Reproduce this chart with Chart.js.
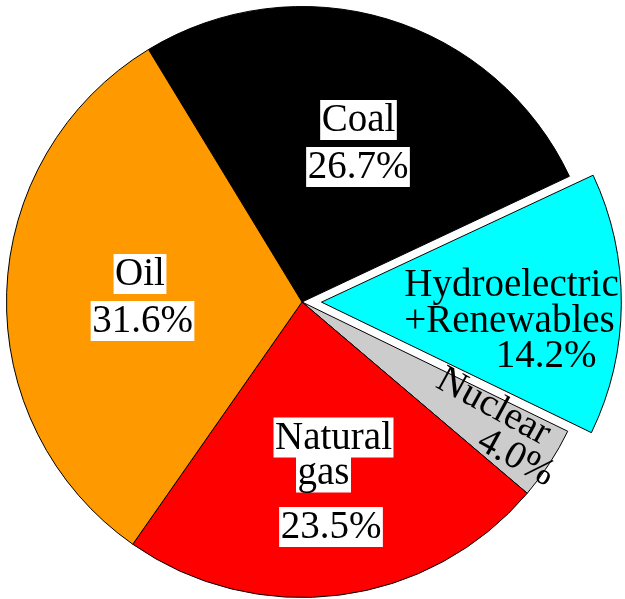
<!DOCTYPE html>
<html>
<head>
<meta charset="utf-8">
<script src="https://cdn.jsdelivr.net/npm/chart.js@4.4.1/dist/chart.umd.min.js"></script>
<style>
  html, body { margin: 0; padding: 0; background: #fff; }
  #wrap { position: relative; width: 625px; height: 599px; overflow: hidden; }
  /* canvas a bit larger than the window: the exploded slice eats into the radius */
  #energyPie { position: absolute; left: -33px; top: -33px; }
</style>
</head>
<body>
<div id="wrap"><canvas id="energyPie" width="670" height="670"></canvas></div>
<script>
// energy share, clockwise from the top-left
const categories = ["Coal", "Hydroelectric +Renewables", "Nuclear", "Natural gas", "Oil"];
const shares = [26.7, 14.2, 4.0, 23.5, 31.6];
const sliceColors = ["#000000", "#00ffff", "#cccccc", "#ff0000", "#ff9900"];
const labelLines = [
  ["Coal", "26.7%"],
  ["Hydroelectric", "+Renewables", "14.2%"],
  ["Nuclear", "4.0%"],
  ["Natural", "gas", "23.5%"],
  ["Oil", "31.6%"]
];

// label placement: baseline centre of each line, px from the pie centre
const labelLayout = [
  { box: true, rot: 0, pos: [[56.5, -171], [56, -124]] },
  { box: false, rot: 0, pos: [[209.5, -6], [207.5, 29.5], [244, 65]] },
  { box: false, rot: 28.6, pos: [[186.5, 114], [209, 165]] },
  { box: true, rot: 0, pos: [[31.5, 146.5], [21.5, 181.5], [29, 236]] },
  { box: true, rot: 0, pos: [[-162, -17], [-159.5, 30]] }
];

const sliceLabels = {
  id: "sliceLabels",
  afterDatasetsDraw(chart) {
    const ctx = chart.ctx;
    const arcs = chart.getDatasetMeta(0).data;
    const cx = arcs[0].x, cy = arcs[0].y;
    ctx.save();
    ctx.font = "39px \"Times New Roman\", \"Liberation Serif\", serif";
    ctx.textAlign = "center";
    ctx.textBaseline = "alphabetic";
    labelLines.forEach((lines, i) => {
      const lay = labelLayout[i];
      lines.forEach((txt, j) => {
        const p = lay.pos[j];
        ctx.save();
        ctx.translate(cx + p[0], cy + p[1]);
        ctx.rotate(lay.rot * Math.PI / 180);
        if (lay.box) {
          const w = ctx.measureText(txt).width + 3;
          ctx.fillStyle = "#ffffff";
          ctx.fillRect(-w / 2, -31, w, 40);
        }
        ctx.fillStyle = "#000000";
        ctx.fillText(txt, 0, 0);
        ctx.restore();
      });
    });
    ctx.restore();
  }
};

new Chart(document.getElementById("energyPie"), {
  type: "pie",
  data: {
    labels: categories,
    datasets: [{
      data: shares,
      backgroundColor: sliceColors,
      borderColor: "#000000",
      borderWidth: 1,
      offset: [0, 78, 0, 0, 0],
      hoverOffset: 0
    }]
  },
  options: {
    responsive: false,
    animation: false,
    rotation: -31.3,
    layout: { padding: 0 },
    plugins: {
      legend: { display: false },
      tooltip: { enabled: false }
    }
  },
  plugins: [sliceLabels]
});
</script>
</body>
</html>
